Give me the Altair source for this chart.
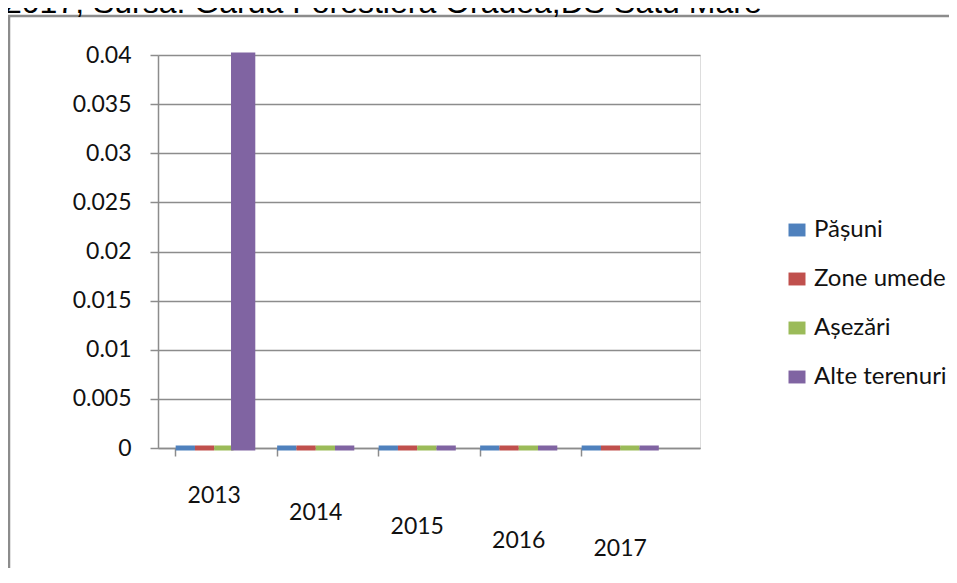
import altair as alt
import pandas as pd

# ---- data ----
years = ["2013", "2014", "2015", "2016", "2017"]
series = ["Pășuni", "Zone umede", "Așezări", "Alte terenuri"]
pasuni = [0, 0, 0, 0, 0]
zone_umede = [0, 0, 0, 0, 0]
asezari = [0, 0, 0, 0, 0]
alte_terenuri = [0.04, 0, 0, 0, 0]
colors = ["#4F81BD", "#C0504D", "#9BBB59", "#8064A2"]
y_ticks = [0, 0.005, 0.01, 0.015, 0.02, 0.025, 0.03, 0.035, 0.04]
title_text = "2017, Sursa: Garda Forestieră Oradea,DS Satu Mare"

values_by_series = [pasuni, zone_umede, asezari, alte_terenuri]
rows = []
for s, vals in zip(series, values_by_series):
    for yr, v in zip(years, vals):
        rows.append({"An": yr, "Categorie": s, "Valoare": v})
df = pd.DataFrame(rows)

W, H = 542, 393
PAD = {"left": 150, "top": 47, "right": 249, "bottom": 120}

grey = "#8c8c8c"

frame = alt.Chart(pd.DataFrame({"a": [0]})).mark_rect(
    fill="white", fillOpacity=0, stroke=grey, strokeWidth=2.5
).encode(
    x=alt.value(-149), x2=alt.value(900), y=alt.value(-39), y2=alt.value(700)
)

title = alt.Chart(pd.DataFrame({"t": [title_text]})).mark_text(
    align="left", baseline="alphabetic", font="Liberation Sans", fontSize=32, color="#000"
).encode(text="t:N", x=alt.value(-154), y=alt.value(-42))

pad_cond = {
    "condition": [
        {"test": "datum.value == '2013'", "value": 28},
        {"test": "datum.value == '2014'", "value": 45},
        {"test": "datum.value == '2015'", "value": 59},
        {"test": "datum.value == '2016'", "value": 73},
    ],
    "value": 81,
}

bars = alt.Chart(df).mark_bar(strokeWidth=5, strokeJoin="miter").encode(
    x=alt.X(
        "An:N",
        sort=years,
        scale=alt.Scale(paddingInner=0.24, paddingOuter=0.29, align=0.3),
        axis=alt.Axis(
            title=None, labelAngle=0, labelFont="Lato", labelFontSize=23, labelColor="#111",
            domainColor=grey, domainWidth=1.5, tickColor=grey, tickWidth=1.5, tickSize=8,
            bandPosition=0, labelPadding=pad_cond, labelBaseline="top",
        ),
    ),
    xOffset=alt.XOffset("Categorie:N", sort=series, scale=alt.Scale(paddingInner=0, paddingOuter=0)),
    y=alt.Y(
        "Valoare:Q",
        scale=alt.Scale(domain=[0, 0.04], nice=False),
        axis=alt.Axis(
            title=None, values=y_ticks, format="~g", labelFont="Lato", labelFontSize=23,
            labelColor="#111", domainColor=grey, domainWidth=1.5, tickColor=grey, tickWidth=1.5,
            tickSize=8, labelPadding=19, gridColor=grey, gridWidth=1.4, grid=True,
        ),
    ),
    color=alt.Color(
        "Categorie:N",
        sort=series,
        scale=alt.Scale(domain=series, range=colors),
        legend=alt.Legend(
            title=None, orient="none", legendX=627, legendY=163, labelFont="Lato",
            labelFontSize=24, labelColor="#111", labelOffset=5, rowPadding=25,
            symbolType="M-1,-0.76H1V0.76H-1Z", symbolSize=289, symbolStrokeWidth=0,
            padding=0,
        ),
    ),
    stroke=alt.Stroke("Categorie:N", sort=series, scale=alt.Scale(domain=series, range=colors), legend=None),
)

chart = alt.layer(frame, title, bars).properties(
    width=W, height=H, autosize=alt.AutoSizeParams(type="none"), padding=PAD
).configure_view(stroke=None).configure(background="white")

chart.save("out.html", embed_options={"renderer": "svg", "actions": False})
